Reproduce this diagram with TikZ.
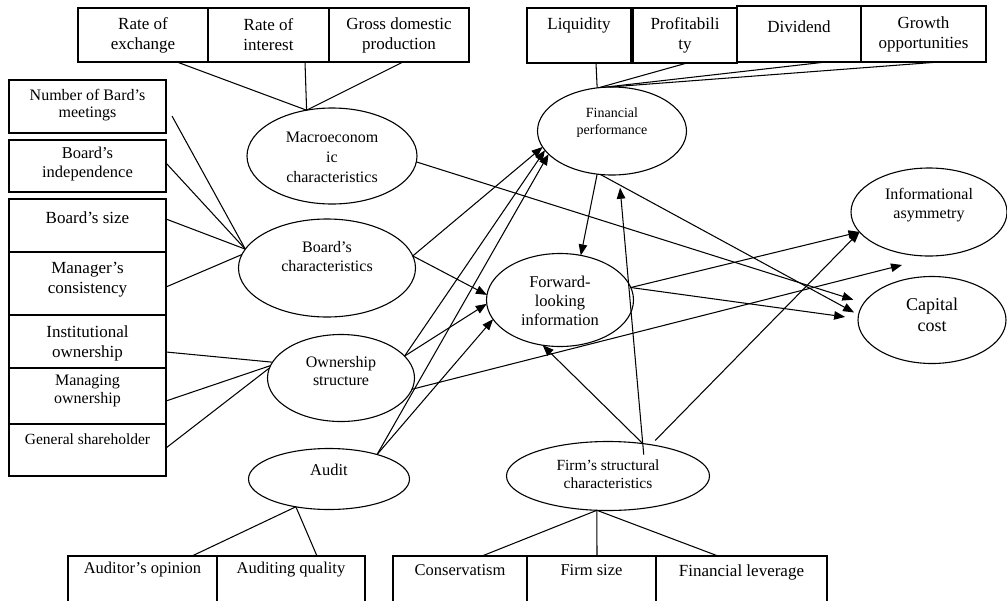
\documentclass[tikz,border=0pt]{standalone}
\usepackage{fontspec}
\setmainfont{Liberation Serif}
\usetikzlibrary{shapes.geometric,arrows.meta}
\newcommand{\myfs}[2]{\fontsize{#1}{#2}\selectfont}
\tikzset{
  shp/.style={draw, line width=1.1pt},
  ell/.style={shp, ellipse, inner sep=0pt, outer sep=0pt},
  bx/.style={shp, rectangle, inner sep=0pt, outer sep=0pt},
  txt/.style={align=center, inner sep=0pt, font=\myfs{17}{20}},
  ln/.style={line width=1.05pt},
  arr/.style={ln, -{Triangle[length=11pt,width=8.5pt]}},
}
\begin{document}
\begin{tikzpicture}[x=1pt,y=-1pt]
\useasboundingbox (0,0) rectangle (1007,600);
\clip (0,0) rectangle (1007,600);

% ---------- boxes ----------
\node[bx, minimum width=130pt, minimum height=54pt] (rx) at (143,35) {};
\node[bx, minimum width=121pt, minimum height=54pt] (ri) at (268.5,35) {};
\node[bx, minimum width=140pt, minimum height=54pt] (gdp) at (399,35) {};

\node[bx, minimum width=104pt, minimum height=55pt] (liq) at (579,35.5) {};
\node[bx, minimum width=104pt, minimum height=55pt] (prof) at (685,35.5) {};
\node[bx, minimum width=124pt, minimum height=56pt] (div) at (799,34) {};
\node[bx, minimum width=125pt, minimum height=56pt] (grw) at (923.5,34) {};

\node[bx, minimum width=157pt, minimum height=53pt] (nbm) at (87.5,106.5) {};
\node[bx, minimum width=157pt, minimum height=52pt] (bi) at (87.5,166) {};
\node[bx, minimum width=157pt, minimum height=53pt] (bs) at (87.5,225.5) {};
\node[bx, minimum width=157pt, minimum height=63pt] (mc) at (87.5,283.5) {};
\node[bx, minimum width=157pt, minimum height=53pt] (io) at (87.5,341.5) {};
\node[bx, minimum width=157pt, minimum height=56pt] (mo) at (87.5,396) {};
\node[bx, minimum width=157pt, minimum height=52pt] (gs) at (87.5,450) {};

\node[bx, minimum width=149pt, minimum height=56pt] (ao) at (142.5,584) {};
\node[bx, minimum width=148pt, minimum height=56pt] (aq) at (291,584) {};
\node[bx, minimum width=134pt, minimum height=56pt] (con) at (460,584) {};
\node[bx, minimum width=129pt, minimum height=56pt] (fs) at (591.5,584) {};
\node[bx, minimum width=171pt, minimum height=56pt] (fl) at (741.5,584) {};

% ---------- ellipses ----------
\node[ell, minimum width=170pt, minimum height=96pt] (mac) at (332,156) {};
\node[ell, minimum width=177pt, minimum height=98pt] (brd) at (327,268) {};
\node[ell, minimum width=147pt, minimum height=87pt] (own) at (341,378) {};
\node[ell, minimum width=161pt, minimum height=61pt] (aud) at (329,479) {};
\node[ell, minimum width=149pt, minimum height=88pt] (fp) at (612,131) {};
\node[ell, minimum width=147pt, minimum height=93pt] (fwd) at (560,300) {};
\node[ell, minimum width=156pt, minimum height=88pt] (ia) at (929,212) {};
\node[ell, minimum width=148pt, minimum height=87pt] (cc) at (932,320) {};
\node[ell, minimum width=203pt, minimum height=69pt] (firm) at (608,476) {};

% ---------- texts ----------
\node[txt] (t-rx) at (143,35) {Rate of\\exchange};
\node[txt] (t-ri) at (268.5,35) {Rate of\\interest};
\node[txt] (t-gdp) at (399,35) {Gross domestic\\production};
\node[txt] (t-liq) at (579,25) {Liquidity};
\node[txt] (t-prof) at (685,35) {Profitabili\\ty};
\node[txt] (t-div) at (799,27) {Dividend};
\node[txt] (t-grw) at (923.5,34) {Growth\\opportunities};

\node[txt, font=\myfs{16}{17}] (t-nbm) at (87.5,105) {Number of Bard's\\meetings};
\node[txt, font=\myfs{16.5}{18.5}] (t-bi) at (87.5,164) {Board's\\independence};
\node[txt] (t-bs) at (87.5,218) {Board's size};
\node[txt] (t-mc) at (87.5,280) {Manager's\\consistency};
\node[txt] (t-io) at (87.5,343) {Institutional\\ownership};
\node[txt, font=\myfs{16}{17.5}] (t-mo) at (87.5,391) {Managing\\ownership};
\node[txt, font=\myfs{15.5}{18}] (t-gs) at (87.5,439) {General shareholder};

\node[txt, font=\myfs{16.5}{20}] (t-ao) at (142.5,570) {Auditor's opinion};
\node[txt, font=\myfs{16.5}{20}] (t-aq) at (291,570) {Auditing quality};
\node[txt, font=\myfs{16.5}{20}] (t-con) at (460,570) {Conservatism};
\node[txt, font=\myfs{16.5}{20}] (t-fs) at (591.5,570) {Firm size};
\node[txt] (t-fl) at (741.5,572) {Financial leverage};

\node[txt, font=\myfs{16}{20}] (t-mac) at (332,157) {Macroeconom\\ic\\characteristics};
\node[txt, font=\myfs{16}{19}] (t-brd) at (327,257) {Board's\\characteristics};
\node[txt, font=\myfs{16}{18}] (t-own) at (341,371) {Ownership\\structure};
\node[txt, font=\myfs{16.5}{20}] (t-aud) at (329,470) {Audit};
\node[txt, font=\myfs{14}{17}] (t-fp) at (612,123) {Financial\\performance};
\node[txt, font=\myfs{16.5}{19}] (t-fwd) at (560,301) {Forward-\\looking\\information};
\node[txt, font=\myfs{16}{19}] (t-ia) at (929,205) {Informational\\asymmetry};
\node[txt, font=\myfs{18}{21}] (t-cc) at (932,315) {Capital\\cost};
\node[txt, font=\myfs{15.5}{18}] (t-firm) at (608,474) {Firm's structural\\characteristics};

% ---------- plain connectors ----------
\draw[ln] ([xshift=34pt]rx.south) -- (mac.119);
\draw[ln] ([xshift=36.5pt]ri.south) -- (mac.119);
\draw[ln] ([xshift=4pt]gdp.south) -- (mac.119);

\draw[ln] ([xshift=6pt,yshift=-9.5pt]nbm.east) -- (brd.167.6);
\draw[ln] ([yshift=3pt]bi.east) -- (brd.167.6);
\draw[ln] ([yshift=6.5pt]bs.east) -- (brd.167.6);
\draw[ln] ([yshift=-3.5pt]mc.east) -- (brd.171);
\draw[ln] ([yshift=-10.5pt]io.east) -- (own.167);
\draw[ln] ([yshift=-5pt]mo.east) -- (own.170);
\draw[ln] ([yshift=2pt]gs.east) -- (own.172);

\draw[ln] (aud.-140) -- ([xshift=49.5pt]ao.north);
\draw[ln] (aud.-140) -- ([xshift=26pt]aq.north);

\draw[ln] (firm.-108) -- ([xshift=22pt]con.north);
\draw[ln] (firm.-108) -- ([xshift=5.5pt]fs.north);
\draw[ln] (firm.-108) -- ([xshift=-23.5pt]fl.north);

\draw[ln] ([xshift=17pt]liq.south) -- (fp.109);
\draw[ln] ([xshift=2pt]prof.south) -- (fp.107);
\draw[ln] ([xshift=27pt]div.south) -- (fp.100);
\draw[ln] ([xshift=15.5pt]grw.south) -- (fp.93);

% ---------- arrows ----------
\draw[arr] (brd.8) -- (fp.193);
\draw[arr] (own.19) -- (fp.196);
\draw[arr] (aud.27) -- (fp.200);
\draw[arr] (brd.8) -- (fwd.176);
\draw[arr] (own.19) -- (fwd.183);
\draw[arr] (aud.27) -- (fwd.196);
\draw[arr, shorten >=11pt] (mac.-4) -- (cc.166);
\draw[arr, shorten >=5pt] (fp.255) -- (cc.176);
\draw[arr, shorten >=13pt] (fwd.10) -- (cc.179);
\draw[arr] (fp.251) -- (fwd.65);
\draw[arr] (fwd.10) -- (ia.196);
\draw[arr, shorten <=6pt] (firm.36) -- (ia.196);
\draw[arr, shorten <=-11pt, shorten >=13pt] (firm.43) -- (fp.-81);
\draw[arr] (firm.43) -- (fwd.249);
\coordinate (free) at (902,265);
\draw[arr] (own.-9) -- (free);
\end{tikzpicture}
\end{document}
